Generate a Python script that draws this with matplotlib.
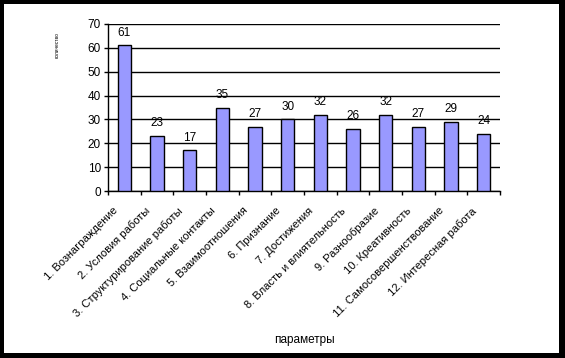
import matplotlib.pyplot as plt
from matplotlib.patches import Rectangle
from matplotlib.transforms import ScaledTranslation
import numpy as np

plt.rcParams["font.family"] = ["Liberation Sans", "DejaVu Sans"]

categories = [
    "1. Вознаграждение",
    "2. Условия работы",
    "3. Структурирование работы",
    "4. Социальные контакты",
    "5. Взаимоотношения",
    "6. Признание",
    "7. Достижения",
    "8. Власть и влиятельность",
    "9. Разнообразие",
    "10. Креативность",
    "11. Самосовершенствование",
    "12. Интересная работа",
]
values = [61, 23, 17, 35, 27, 30, 32, 26, 32, 27, 29, 24]
y_ticks = [0, 10, 20, 30, 40, 50, 60, 70]


def main():
    W, H = 565, 358
    fig = plt.figure(figsize=(W / 100, H / 100), dpi=100)
    fig.patch.set_facecolor("black")
    # white inner panel, black frame around it
    fig.patches.append(Rectangle((4 / W, 5 / H), 555 / W, 349 / H,
                                 transform=fig.transFigure, facecolor="white",
                                 edgecolor="none", zorder=-10))

    ax = fig.add_axes([108 / W, 1 - 191 / H, 392 / W, 167 / H])
    ax.set_zorder(1)
    ax.set_facecolor("none")
    x = np.arange(len(values))
    bars = ax.bar(x, values, width=0.4, color="#9999ff", edgecolor="black",
                  linewidth=1, zorder=3)
    for b, v in zip(bars, values):
        ax.text(b.get_x() + b.get_width() / 2, v + 2.8, str(v), ha="center",
                va="bottom", fontsize=8.5, zorder=4)

    ax.set_xlim(-0.5, len(values) - 0.5)
    ax.set_ylim(0, 70)
    ax.set_yticks(y_ticks)
    ax.tick_params(axis="y", labelsize=8.5, length=3, width=1, pad=2)
    ax.yaxis.grid(True, color="black", linewidth=1)
    ax.set_axisbelow(True)

    ax.set_xticks(np.arange(len(values) + 1) - 0.5)
    ax.set_xticklabels([])
    ax.tick_params(axis="x", length=3, width=1)
    ax.set_xticks(x, minor=True)
    ax.set_xticklabels(categories, minor=True, rotation=45, ha="right",
                       rotation_mode="anchor", fontsize=8)
    ax.tick_params(axis="x", which="minor", length=0, pad=4)
    shift = ScaledTranslation(-12 / 100, -9 / 100, fig.dpi_scale_trans)
    for lbl in ax.get_xticklabels(minor=True):
        lbl.set_transform(lbl.get_transform() + shift)

    for s in ["top", "right"]:
        ax.spines[s].set_visible(False)
    ax.spines["left"].set_linewidth(1)
    ax.spines["bottom"].set_linewidth(1)

    fig.text(304 / W, 1 - 340 / H, "параметры", ha="center", va="center",
             fontsize=8.5)
    fig.text(57 / W, 1 - 45 / H, "количество", ha="center", va="center",
             fontsize=3.5, rotation=90)

    fig.savefig("out.png", dpi=100, facecolor=fig.get_facecolor())


if __name__ == "__main__":
    main()
